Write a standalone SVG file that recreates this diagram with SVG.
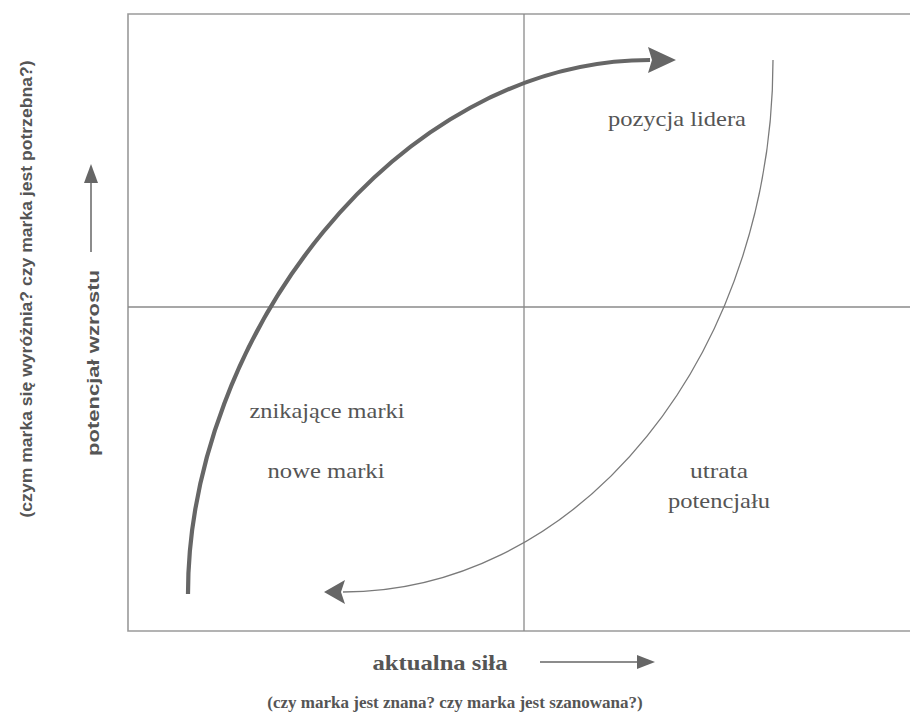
<svg xmlns="http://www.w3.org/2000/svg" width="910" height="718" viewBox="0 0 910 718">
<style>
.frame{fill:none;stroke:#9a9a9a;stroke-width:1.6}
.cross{fill:none;stroke:#8a8a8a;stroke-width:1.3}
.thick{fill:none;stroke:#666;stroke-width:4.2}
.thin{fill:none;stroke:#7a7a7a;stroke-width:1.3}
.lbl{font-family:"Liberation Serif","Times New Roman",serif;font-size:22px;fill:#555;text-anchor:middle}
.ax{font-family:"Liberation Serif","Times New Roman",serif;font-weight:bold;fill:#555;text-anchor:middle}
.axs{font-family:"Liberation Sans",Arial,sans-serif;font-weight:bold;fill:#555;text-anchor:middle}
.axl{fill:none;stroke:#666;stroke-width:1.5}
.head{fill:#666}
</style>
<rect width="910" height="718" fill="#fff"/>
<g id="frame">
<path class="frame" d="M910,14 H128 V631 H910"/>
<line class="cross" x1="524" y1="14" x2="524" y2="631"/>
<line class="cross" x1="128" y1="307" x2="910" y2="307"/>
</g>
<g id="connectors">
<path class="thick" d="M188,594 C188,340 395,60 650,60"/>
<polygon class="head" points="676,60 648,47 652,60 648,73"/>
<path class="thin" d="M773,60 A430,532 0 0 1 343,592"/>
<polygon class="head" points="324,592 345,580 341,592 345,604"/>
</g>
<g id="q-leader"><text class="lbl" x="677" y="126" textLength="138" lengthAdjust="spacingAndGlyphs">pozycja lidera</text></g>
<g id="q-new"><text class="lbl" x="327" y="418" textLength="155" lengthAdjust="spacingAndGlyphs">znikające marki</text><text class="lbl" x="326" y="478" textLength="117" lengthAdjust="spacingAndGlyphs">nowe marki</text></g>
<g id="q-loss"><text class="lbl" x="719" y="478" textLength="58" lengthAdjust="spacingAndGlyphs">utrata</text><text class="lbl" x="719" y="508" textLength="102" lengthAdjust="spacingAndGlyphs">potencjału</text></g>
<g id="x-axis">
<text class="ax" x="440" y="670" font-size="21" textLength="135" lengthAdjust="spacingAndGlyphs">aktualna siła</text>
<line class="axl" x1="540" y1="662" x2="640" y2="662"/>
<polygon class="head" points="655,662 637,655 637,669"/>
<text class="ax" x="455" y="708" font-size="17">(czy marka jest znana? czy marka jest szanowana?)</text>
</g>
<g id="y-axis">
<text class="axs" transform="translate(99,363) rotate(-90)" font-size="17" textLength="186" lengthAdjust="spacingAndGlyphs">potencjał wzrostu</text>
<line class="axl" x1="91" y1="252" x2="91" y2="180"/>
<polygon class="head" points="91,164 84,183 98,183"/>
<text class="axs" transform="translate(32,289) rotate(-90)" font-size="17" textLength="457" lengthAdjust="spacingAndGlyphs">(czym marka się wyróżnia? czy marka jest potrzebna?)</text>
</g>
</svg>
